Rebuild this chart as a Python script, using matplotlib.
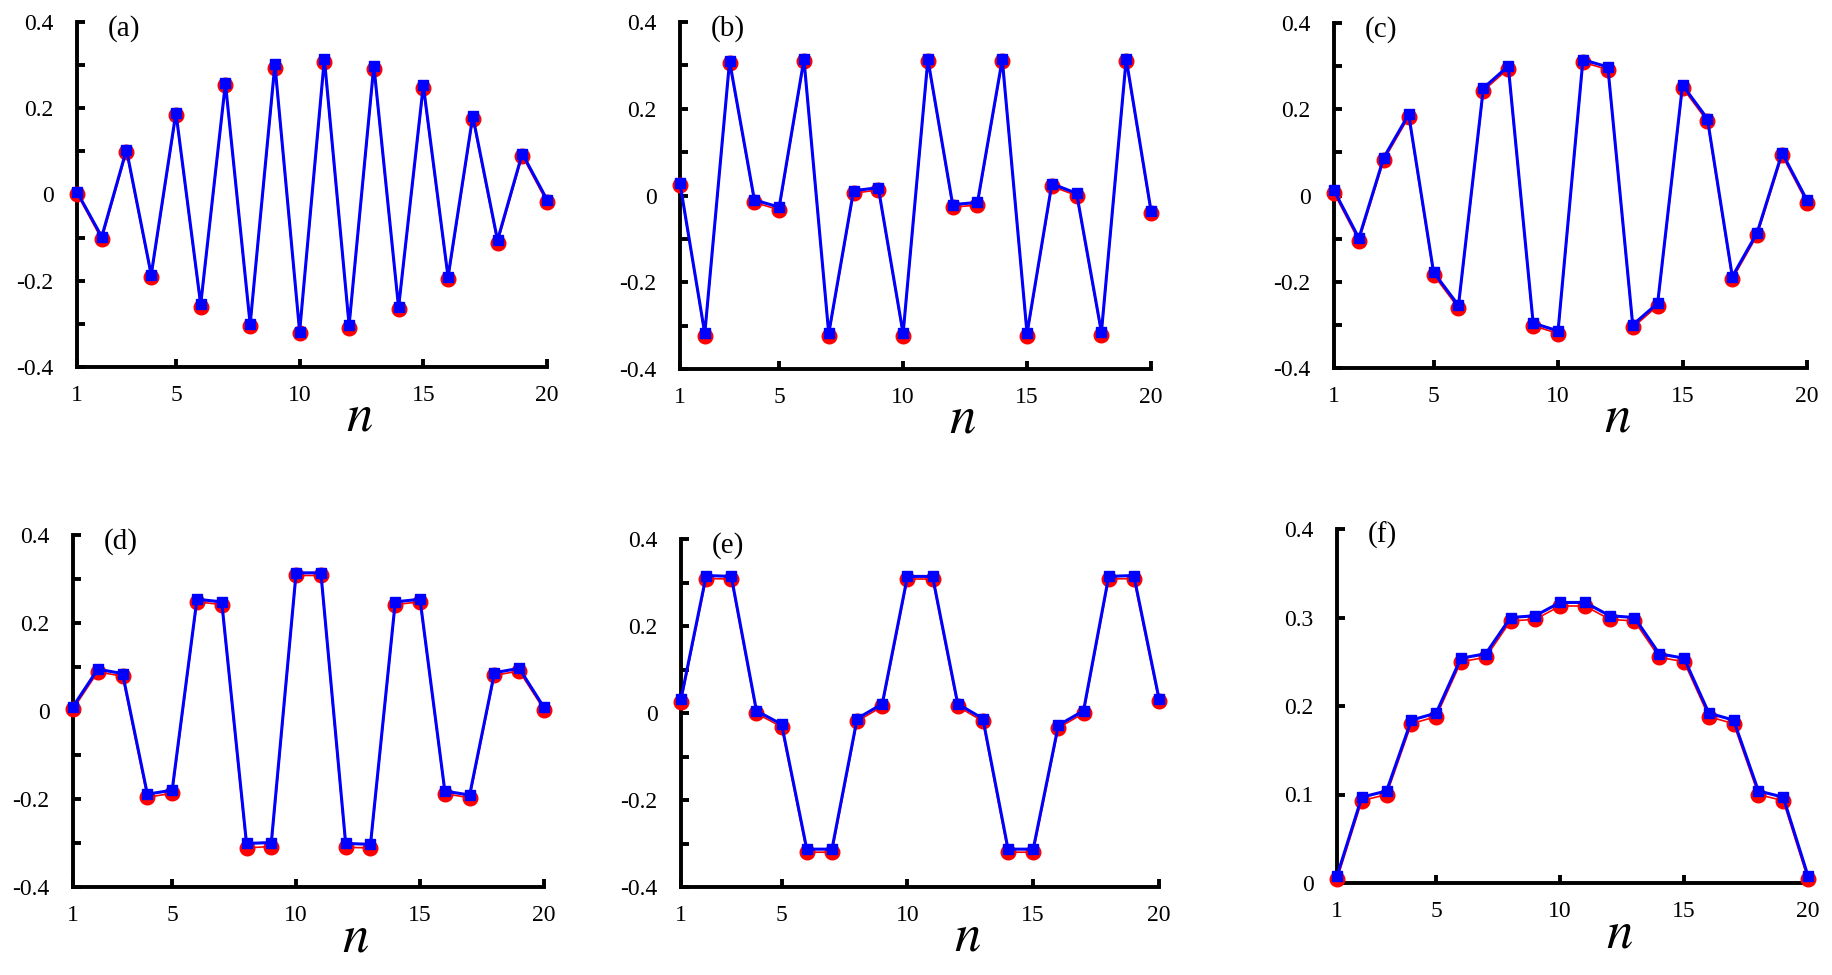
import matplotlib
matplotlib.use('Agg')
import matplotlib.pyplot as plt
import numpy as np

plt.rcParams['font.family'] = ['Liberation Serif', 'DejaVu Serif']
plt.rcParams['mathtext.fontset'] = 'stix'

n = np.arange(1, 21)

# blue squares / red circles for each panel
blue_a = [0.006, -0.098, 0.104, -0.186, 0.190, -0.255, 0.258, -0.301, 0.302, -0.318,
          0.315, -0.303, 0.299, -0.262, 0.253, -0.191, 0.182, -0.106, 0.095, -0.012]
red_a = [0.002, -0.104, 0.099, -0.191, 0.184, -0.260, 0.253, -0.305, 0.294, -0.322,
         0.307, -0.309, 0.292, -0.266, 0.246, -0.197, 0.176, -0.112, 0.090, -0.018]

blue_b = [0.028, -0.318, 0.310, -0.010, -0.027, 0.314, -0.318, 0.011, 0.018, -0.318,
          0.314, -0.021, -0.016, 0.314, -0.318, 0.027, 0.005, -0.315, 0.315, -0.035]
red_b = [0.024, -0.323, 0.305, -0.016, -0.033, 0.309, -0.323, 0.005, 0.013, -0.323,
         0.309, -0.027, -0.022, 0.309, -0.323, 0.021, 0.000, -0.321, 0.309, -0.041]

blue_c = [0.012, -0.099, 0.088, 0.188, -0.178, -0.255, 0.249, 0.300, -0.296, -0.314,
          0.315, 0.298, -0.300, -0.250, 0.256, 0.178, -0.188, -0.086, 0.099, -0.011]
red_c = [0.006, -0.105, 0.082, 0.182, -0.184, -0.261, 0.243, 0.294, -0.302, -0.320,
         0.309, 0.292, -0.306, -0.256, 0.250, 0.172, -0.194, -0.092, 0.093, -0.017]

blue_d = [0.010, 0.095, 0.085, -0.189, -0.180, 0.254, 0.248, -0.301, -0.299, 0.314,
          0.314, -0.301, -0.303, 0.248, 0.254, -0.182, -0.191, 0.087, 0.097, 0.008]
red_d = [0.004, 0.089, 0.079, -0.196, -0.187, 0.248, 0.242, -0.311, -0.308, 0.308,
         0.308, -0.310, -0.311, 0.242, 0.248, -0.188, -0.197, 0.081, 0.091, 0.003]

blue_e = [0.032, 0.316, 0.314, 0.005, -0.026, -0.313, -0.313, -0.013, 0.021, 0.314,
          0.314, 0.021, -0.013, -0.313, -0.313, -0.028, 0.005, 0.314, 0.316, 0.033]
red_e = [0.026, 0.309, 0.308, -0.001, -0.032, -0.320, -0.320, -0.019, 0.015, 0.308,
         0.308, 0.015, -0.019, -0.320, -0.320, -0.034, -0.001, 0.308, 0.309, 0.027]

blue_f = [0.008, 0.097, 0.104, 0.184, 0.192, 0.254, 0.259, 0.300, 0.302, 0.317,
          0.317, 0.302, 0.300, 0.259, 0.254, 0.192, 0.184, 0.104, 0.097, 0.008]
red_f = [0.004, 0.093, 0.100, 0.180, 0.188, 0.250, 0.255, 0.296, 0.298, 0.313,
         0.313, 0.298, 0.296, 0.255, 0.250, 0.188, 0.180, 0.100, 0.093, 0.004]

labels = ['(a)', '(b)', '(c)', '(d)', '(e)', '(f)']
blues = [blue_a, blue_b, blue_c, blue_d, blue_e, blue_f]
reds = [red_a, red_b, red_c, red_d, red_e, red_f]

# axes boxes in pixels: left, right, top, bottom
W, H = 1832, 975
boxes = [(77, 547, 22, 367), (680, 1151, 22, 369), (1334, 1807, 23, 368),
         (73, 544, 535, 887), (681, 1159, 539, 887), (1337, 1808, 529, 883)]

fig = plt.figure(figsize=(W / 100, H / 100), dpi=100)

for i in range(6):
    l, r, t, b = boxes[i]
    ax = fig.add_axes([l / W, 1 - b / H, (r - l) / W, (b - t) / H])

    ax.plot(n, reds[i], '-', color='red', lw=1.2, marker='o', ms=10.5,
            mec='red', mfc='red', clip_on=False, zorder=3)
    ax.plot(n, blues[i], '-', color='blue', lw=2.2, marker='s', ms=7.5,
            mec='blue', mfc='blue', clip_on=False, zorder=4)

    ax.set_xlim(1, 20)
    ax.set_xticks([1, 5, 10, 15, 20])
    ax.set_xticklabels(['1', '5', '10', '15', '20'])
    if i < 5:
        ax.set_ylim(-0.4, 0.4)
        ax.set_yticks([-0.4, -0.2, 0, 0.2, 0.4])
        ax.set_yticklabels(['-0.4', '-0.2', '0', '0.2', '0.4'])
        ax.set_yticks([-0.3, -0.1, 0.1, 0.3], minor=True)
    else:
        ax.set_ylim(0, 0.4)
        ax.set_yticks([0, 0.1, 0.2, 0.3, 0.4])
        ax.set_yticklabels(['0', '0.1', '0.2', '0.3', '0.4'])

    for s in ['top', 'right']:
        ax.spines[s].set_visible(False)
    for s in ['left', 'bottom']:
        ax.spines[s].set_linewidth(2.8)

    ax.tick_params(axis='both', which='both', direction='in', length=5.5,
                   width=2.8, labelsize=17)
    ax.tick_params(axis='x', pad=13)
    ax.tick_params(axis='y', pad=17)

    ax.text(0.065, 1.02, labels[i], transform=ax.transAxes, ha='left', va='top',
            fontsize=21)
    ax.text(0.6, -0.145, '$n$', transform=ax.transAxes, ha='center', va='center',
            fontsize=38)

plt.savefig('out.png', dpi=100)
